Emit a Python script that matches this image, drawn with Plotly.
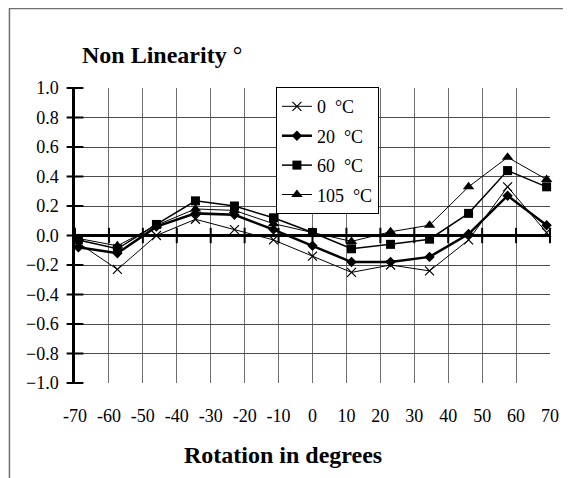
import plotly.graph_objects as go

rotation = [-69, -57.5, -46, -34.5, -23, -11.5, 0, 11.5, 23, 34.5, 46, 57.5, 69]
nl_0C = [-0.05, -0.23, 0.0, 0.11, 0.04, -0.03, -0.14, -0.25, -0.20, -0.24, -0.03, 0.33, 0.02]
nl_20C = [-0.08, -0.12, 0.06, 0.15, 0.14, 0.04, -0.07, -0.18, -0.18, -0.145, 0.01, 0.27, 0.07]
nl_60C = [-0.03, -0.09, 0.075, 0.235, 0.20, 0.12, 0.02, -0.09, -0.06, -0.025, 0.15, 0.44, 0.33]
nl_105C = [-0.02, -0.07, 0.07, 0.18, 0.17, 0.08, 0.02, -0.04, 0.025, 0.07, 0.33, 0.53, 0.38]

series_names = ["0\u00a0\u00a0°C", "20\u00a0\u00a0°C", "60\u00a0\u00a0°C", "105\u00a0\u00a0°C"]
x_ticks = list(range(-70, 71, 10))
y_ticks = [round(-1.0 + 0.2 * i, 1) for i in range(11)]

FONT = "Liberation Serif, Times New Roman, serif"

fig = go.Figure()

styles = [
    (nl_0C, "x-thin-open", 9, 1, 1.2),
    (nl_20C, "diamond", 8, 2.5, 0),
    (nl_60C, "square", 9, 1.5, 0),
    (nl_105C, "triangle-up", 10, 1, 0),
]
for i, (vals, sym, size, lw, mlw) in enumerate(styles):
    fig.add_trace(go.Scatter(
        x=rotation, y=vals, name=series_names[i], mode="lines+markers",
        line=dict(color="black", width=lw),
        marker=dict(symbol=sym, size=size, color="black",
                    line=dict(color="black", width=mlw)),
        legendgroup=f"g{i}", cliponaxis=False,
    ))

# crossing tick marks on the zero line and on the y-axis
fig.add_trace(go.Scatter(
    x=x_ticks, y=[0] * len(x_ticks), mode="markers", showlegend=False,
    marker=dict(symbol="line-ns", size=11, line=dict(color="black", width=2)),
    hoverinfo="skip", cliponaxis=False,
))
fig.add_trace(go.Scatter(
    x=[-70] * len(y_ticks), y=y_ticks, mode="markers", showlegend=False,
    marker=dict(symbol="line-ew", size=12, line=dict(color="black", width=2)),
    hoverinfo="skip", cliponaxis=False,
))

fig.update_layout(
    width=563, height=470,
    margin=dict(l=67, r=16, t=80, b=95),
    paper_bgcolor="white", plot_bgcolor="white",
    font=dict(family=FONT, size=18, color="black"),
    showlegend=True,
    legend=dict(
        x=0.423, y=1.003, xanchor="left", yanchor="top",
        bgcolor="white", bordercolor="black", borderwidth=1,
        font=dict(family=FONT, size=18, color="black"),
        traceorder="grouped", tracegroupgap=3,
    ),
    xaxis=dict(
        range=[-70, 70], tickvals=x_ticks, ticktext=[str(v) for v in x_ticks],
        showgrid=True, gridcolor="#6e6e6e", gridwidth=1,
        zeroline=False, showline=False, ticks="",
        ticklabelstandoff=20,
        tickfont=dict(family=FONT, size=18, color="black"),
    ),
    yaxis=dict(
        range=[-1.0, 1.0], tickvals=y_ticks, tickformat=".1f",
        showgrid=True, gridcolor="#4a4a4a", gridwidth=1,
        zeroline=True, zerolinecolor="black", zerolinewidth=2.5,
        showline=True, linecolor="black", linewidth=2.5,
        ticks="", ticklabelstandoff=10,
        tickfont=dict(family=FONT, size=18, color="black"),
    ),
    shapes=[dict(
        type="rect", xref="paper", yref="paper",
        x0=-0.138, x1=1.08, y0=-0.40, y1=1.2695,
        line=dict(color="#707070", width=1.5),
    )],
    annotations=[
        dict(text="<b>Non Linearity</b> °", xref="paper", yref="paper",
             x=0.0104, y=1.112, xanchor="left", yanchor="middle", showarrow=False,
             font=dict(family=FONT, size=24, color="black")),
        dict(text="<b>Rotation in degrees</b>", xref="paper", yref="paper",
             x=0.4375, y=-0.244, xanchor="center", yanchor="middle", showarrow=False,
             font=dict(family=FONT, size=24, color="black")),
    ],
)

fig.write_html("out.html")
